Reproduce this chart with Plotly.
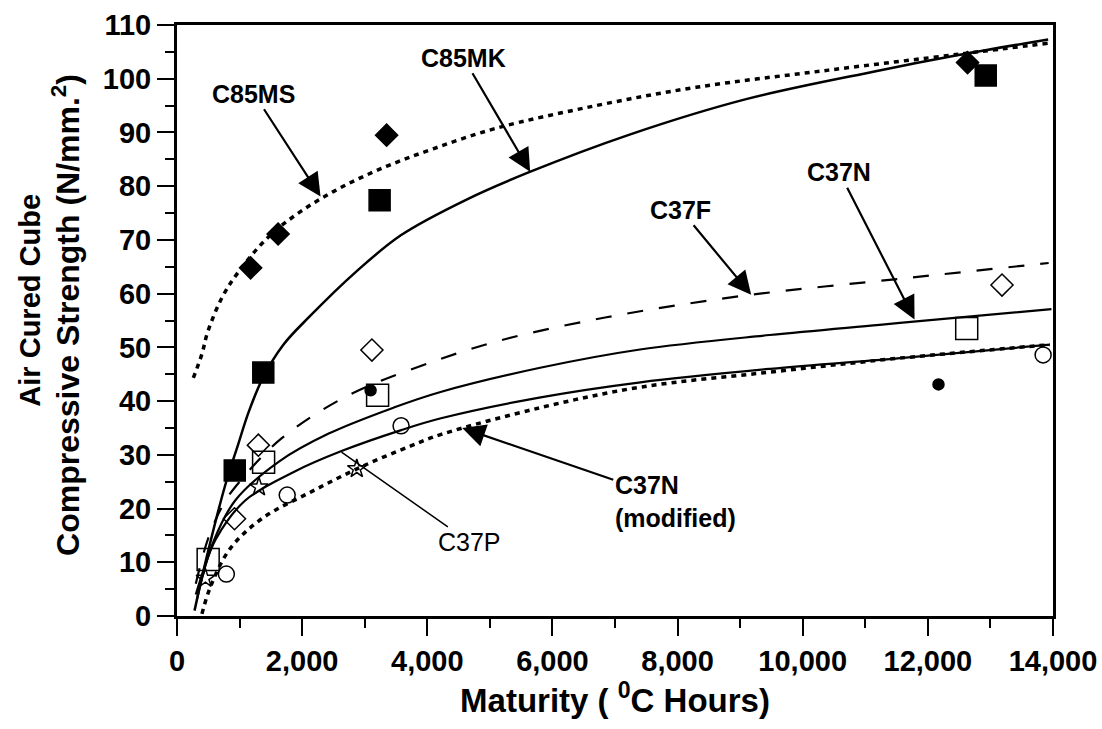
import plotly.graph_objects as go

# ---- fitted strength-maturity curves (maturity in deg C hours, strength in N/mm2) ----
c85ms_fit_x = [261, 399, 489, 721, 986, 1457, 1978, 2611, 3310, 4104, 5106, 6699, 8294, 10415, 12520, 13923]
c85ms_fit_y = [44.3, 48.8, 52.8, 59.3, 64.1, 70.5, 75.3, 79.7, 83.5, 87.0, 90.8, 95.0, 98.4, 101.6, 104.6, 106.6]

c85mk_fit_x = [280, 465, 767, 979, 1146, 1380, 1700, 2116, 2855, 3583, 4644, 5628, 7233, 9096, 11167, 12489, 13923]
c85mk_fit_y = [1.0, 10.5, 24.2, 32.0, 38.0, 44.5, 50.5, 55.7, 64.0, 70.9, 77.6, 82.6, 89.6, 96.2, 101.4, 104.4, 107.3]

c37f_fit_x = [300, 500, 756, 1000, 1665, 2728, 4204, 5270, 6864, 8984, 11745, 13931]
c37f_fit_y = [6.0, 14.5, 21.1, 25.0, 33.0, 41.0, 47.8, 51.6, 55.6, 59.5, 63.0, 65.7]

c37n_fit_x = [316, 574, 930, 1624, 2416, 3465, 4212, 5804, 7399, 9473, 11229, 12826, 13975]
c37n_fit_y = [3.0, 13.6, 21.5, 28.7, 33.9, 38.8, 41.7, 46.2, 49.6, 52.3, 54.2, 55.9, 57.1]

c37p_fit_x = [300, 424, 620, 1090, 1882, 2629, 3583, 4219, 5812, 7407, 9481, 11557, 13951]
c37p_fit_y = [4.0, 8.5, 14.3, 21.5, 26.9, 30.7, 34.6, 36.8, 40.7, 43.5, 46.0, 48.0, 50.5]

c37nm_fit_x = [399, 537, 847, 1366, 2159, 2952, 3746, 4223, 5815, 7408, 9482, 11557, 13951]
c37nm_fit_y = [0.4, 5.5, 12.5, 18.2, 23.2, 27.8, 31.7, 33.8, 38.8, 42.6, 45.4, 48.0, 50.5]

# ---- measured cube strengths ----
c85ms_x = [1176, 1616, 3350, 12634]
c85ms_y = [64.8, 71.1, 89.5, 103.0]

c85mk_x = [923, 1379, 3238, 12925]
c85mk_y = [27.1, 45.3, 77.4, 100.6]

c37f_x = [919, 1300, 3115, 13185]
c37f_y = [18.1, 31.8, 49.5, 61.6]

c37n_x = [498, 1384, 3206, 12621]
c37n_y = [10.5, 28.6, 41.1, 53.5]

c37nm_x = [789, 1761, 3581, 13842]
c37nm_y = [7.8, 22.5, 35.4, 48.6]

c37p_x = [454, 1310, 2873]
c37p_y = [7.0, 24.0, 27.4]

c37p_dot_x = [3094, 12170]
c37p_dot_y = [42.0, 43.1]

# ---- curve labels: text, label centre, arrow tip ----
label_text = ["C85MS", "C85MK", "C37F", "C37N", "C37N<br>(modified)", "C37P"]
label_x = [1230, 4577, 8051, 10584, 7963, 4681]
label_y = [97.2, 103.9, 75.6, 82.6, 21.4, 13.7]
tip_x = [2294, 5644, 9176, 11787, 4558, 2629]
tip_y = [78.1, 82.7, 59.8, 55.2, 35.0, 30.5]

# ---- axis titles ----
x_title = "Maturity ( <sup>0</sup>C Hours)"
y_title_lines = ["Air Cured Cube", "Compressive Strength (N/mm.<sup>2</sup>)"]

FONT = "Liberation Sans, Arial, sans-serif"

fig = go.Figure()

def curve(x, y, dash, width):
    fig.add_trace(go.Scatter(
        x=x, y=y, mode="lines",
        line=dict(color="black", width=width, dash=dash, shape="spline", smoothing=1.0),
        hoverinfo="skip"))

curve(c85ms_fit_x, c85ms_fit_y, "5px,5px", 3.5)
curve(c85mk_fit_x, c85mk_fit_y, "solid", 2.5)
curve(c37f_fit_x, c37f_fit_y, "16px,16px", 2.2)
curve(c37n_fit_x, c37n_fit_y, "solid", 2.2)
curve(c37p_fit_x, c37p_fit_y, "solid", 2.2)
curve(c37nm_fit_x, c37nm_fit_y, "5px,5px", 3.5)

def points(x, y, symbol, size, lw=1.5):
    fig.add_trace(go.Scatter(
        x=x, y=y, mode="markers",
        marker=dict(symbol=symbol, size=size, color="black",
                    line=dict(color="black", width=lw)),
        cliponaxis=False))

points(c85ms_x, c85ms_y, "diamond", 17)
points(c85mk_x, c85mk_y, "square", 21)
points(c37f_x, c37f_y, "diamond-open", 17)
points(c37n_x, c37n_y, "square-open", 22)
points(c37nm_x, c37nm_y, "circle-open", 16)
points(c37p_x, c37p_y, "star-open", 14)
points(c37p_dot_x, c37p_dot_y, "circle-dot", 11)

for i, t in enumerate(label_text):
    thin = t == "C37P"
    fig.add_annotation(
        x=tip_x[i], y=tip_y[i], ax=label_x[i], ay=label_y[i],
        xref="x", yref="y", axref="x", ayref="y",
        text=t if thin else "<b>" + t + "</b>",
        showarrow=True,
        arrowhead=0 if thin else 2,
        arrowsize=1.0 if thin else 2.1,
        arrowwidth=1.5 if thin else 2.2,
        arrowcolor="black",
        font=dict(family=FONT, size=25, color="black"),
        align="left" if "modified" in t else "center",
    )

# rotated y-axis title, one annotation per line
fig.add_annotation(
    xref="paper", yref="paper", x=-0.168, y=0.535, showarrow=False,
    text="<b>" + y_title_lines[0] + "</b>", textangle=-90,
    xanchor="center", yanchor="middle",
    font=dict(family=FONT, size=29, color="black"))
fig.add_annotation(
    xref="paper", yref="paper", x=-0.127, y=0.509, showarrow=False,
    text="<b>" + y_title_lines[1] + "</b>", textangle=-90,
    xanchor="center", yanchor="middle",
    font=dict(family=FONT, size=32, color="black"))

axis_common = dict(
    showline=True, linecolor="black", linewidth=3, mirror=True,
    showgrid=False, zeroline=False,
    ticks="outside", ticklen=17, tickwidth=2, tickcolor="black",
    tickfont=dict(family=FONT, size=29, color="black", weight="bold"),
)

fig.update_xaxes(
    range=[0, 14000], tickmode="linear", tick0=0, dtick=2000, tickformat=",d",
    minor=dict(ticks="outside", ticklen=9, tickwidth=2, tickcolor="black", dtick=1000),
    title=dict(text=x_title, standoff=4,
               font=dict(family=FONT, size=33, color="black", weight="bold")),
    **axis_common)

fig.update_yaxes(
    range=[0, 110], tickmode="linear", tick0=0, dtick=10,
    minor=dict(ticks="outside", ticklen=9, tickwidth=2, tickcolor="black", dtick=5),
    **axis_common)

fig.update_layout(
    width=1102, height=729,
    margin=dict(l=177, r=49, t=25, b=113, autoexpand=False),
    plot_bgcolor="white", paper_bgcolor="white",
    showlegend=False,
)

fig.write_html("out.html")
